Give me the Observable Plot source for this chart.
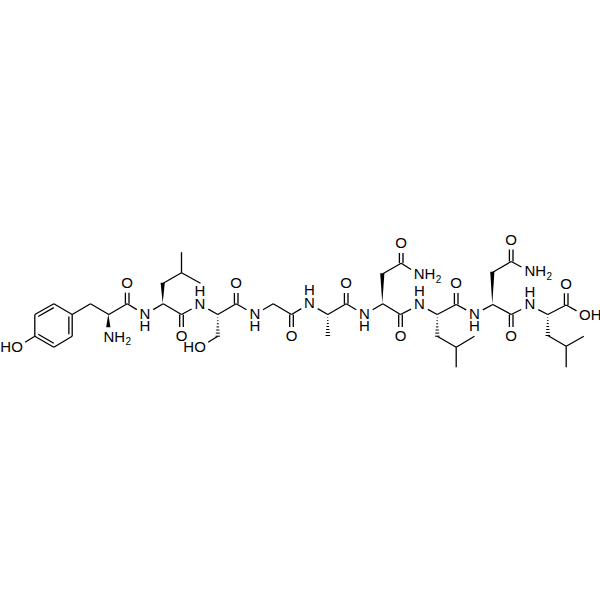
<!DOCTYPE html>
<html><head><meta charset="utf-8">
<script src="https://cdn.jsdelivr.net/npm/d3@7"></script>
<script src="https://cdn.jsdelivr.net/npm/@observablehq/plot@0.6"></script>
<style>html,body{margin:0;padding:0;background:#fff}svg{display:block}</style>
</head><body><div id="chart"></div>
<script>
// atom table: name, x, y
const atomNames = ["r1","r2","r3","r4","r5","r6","oh1",
 "t_b","t_a","t_n","t_c","t_o","n2",
 "l1_a","l1_b","l1_g","l1_d1","l1_d2","l1_c","l1_o","n3",
 "s_a","s_b","s_og","s_c","s_o","n4",
 "g_a","g_c","g_o","n5",
 "a_a","a_b","a_c","a_o","n6",
 "q1_a","q1_b","q1_g","q1_od","q1_nd","q1_c","q1_o","n7",
 "l2_a","l2_b","l2_g","l2_d1","l2_d2","l2_c","l2_o","n8",
 "q2_a","q2_b","q2_g","q2_od","q2_nd","q2_c","q2_o","n9",
 "l3_a","l3_b","l3_g","l3_d1","l3_d2","l3_c","l3_o","l3_oh"];
const atomX = [71.7,53.3,34.3,34.3,53.3,71.7,16.5,
 90,108.3,108.3,126.7,126.7,144.5,
 162.7,162.7,181,181,200,181,181,199.5,
 217.3,217.3,199.5,235.7,235.7,254.3,
 272.7,291,291,309,
 327.3,327.3,345.7,345.7,364,
 382.3,382.3,400.7,400.7,418.6,400,400,419,
 436.7,436.7,455.7,474,455.7,455.7,455.7,474,
 492.3,492.3,510.7,510.7,529.3,510.7,510.7,529.3,
 547.3,547.3,565.7,583.3,565.7,565.7,565.7,584.3];
const atomY = [314,303.3,314,335.7,346.7,335.7,346.7,
 303.3,314,336.7,303.3,282.7,314,
 303.3,282.7,272.3,251.7,282.7,314,336,304,
 314,335.7,346.7,303.3,283,314,
 303.3,314,336,303.3,
 314,335,303.3,283,314,
 303.3,273.3,262.7,243,274,314,336,304.3,
 314,335.7,346.7,335.7,366.7,304,283,314,
 304,271.7,261,239.5,271,314,336,304.8,
 314,335,345.7,335.7,366.7,304.5,283.3,315];

// bonds, given as atom-name pairs
const singleBonds = [["r1","r2"],["r2","r3"],["r3","r4"],["r4","r5"],["r5","r6"],["r6","r1"],["r4","oh1"],
 ["r1","t_b"],["t_b","t_a"],["t_a","t_c"],["t_c","n2"],["n2","l1_a"],
 ["l1_b","l1_g"],["l1_g","l1_d1"],["l1_g","l1_d2"],["l1_a","l1_c"],["l1_c","n3"],["n3","s_a"],
 ["s_b","s_og"],["s_a","s_c"],["s_c","n4"],["n4","g_a"],["g_a","g_c"],["g_c","n5"],["n5","a_a"],
 ["a_a","a_c"],["a_c","n6"],["n6","q1_a"],["q1_b","q1_g"],["q1_g","q1_nd"],
 ["q1_a","q1_c"],["q1_c","n7"],["n7","l2_a"],["l2_b","l2_g"],["l2_g","l2_d1"],["l2_g","l2_d2"],
 ["l2_a","l2_c"],["l2_c","n8"],["n8","q2_a"],["q2_b","q2_g"],["q2_g","q2_nd"],
 ["q2_a","q2_c"],["q2_c","n9"],["n9","l3_a"],["l3_b","l3_g"],["l3_g","l3_d1"],["l3_g","l3_d2"],
 ["l3_a","l3_c"],["l3_c","l3_oh"]];
const carbonylBonds = [["t_c","t_o"],["l1_c","l1_o"],["s_c","s_o"],["g_c","g_o"],["a_c","a_o"],
 ["q1_g","q1_od"],["q1_c","q1_o"],["l2_c","l2_o"],["q2_g","q2_od"],["q2_c","q2_o"],["l3_c","l3_o"]];
const wedgeBonds = [["t_a","t_n"],["l1_a","l1_b"],["q1_a","q1_b"],["q2_a","q2_b"]];
const hashBonds = [["s_a","s_b"],["a_a","a_b"],["l2_a","l2_b"],["l3_a","l3_b"]];
const ringInner = [["r2","r3"],["r4","r5"],["r6","r1"]];

// labels
const oxygenLabels = ["t_o","l1_o","s_o","g_o","a_o","q1_od","q1_o","l2_o","q2_od","q2_o","l3_o"];
const nhDown = ["n2","n4","n6","n8"];
const nhUp = ["n3","n5","n7","n9"];
const amineLabels = ["t_n","q1_nd","q2_nd"];
const hoLabels = ["oh1","s_og"];
const ohLabels = ["l3_oh"];

const pos = Object.fromEntries(atomNames.map((n,i)=>[n,{x:atomX[i],y:atomY[i]}]));
const labelled = new Set([...oxygenLabels,...nhDown,...nhUp,...amineLabels,...hoLabels,...ohLabels]);
const trimR = 9.5;
function trimmed([a,b]){
  const p=pos[a],q=pos[b],d=Math.hypot(q.x-p.x,q.y-p.y);
  const ta=labelled.has(a)?trimR/d:0, tb=labelled.has(b)?trimR/d:0;
  return {x1:p.x+(q.x-p.x)*ta,y1:p.y+(q.y-p.y)*ta,x2:q.x-(q.x-p.x)*tb,y2:q.y-(q.y-p.y)*tb};
}
const center={x:d3.mean(["r1","r2","r3","r4","r5","r6"],n=>pos[n].x),y:d3.mean(["r1","r2","r3","r4","r5","r6"],n=>pos[n].y)};
const inner=ringInner.map(([a,b])=>{
  const f=.82,m=(n)=>({x:center.x+(pos[n].x-center.x)*f,y:center.y+(pos[n].y-center.y)*f});
  const p=m(a),q=m(b);return {x1:p.x,y1:p.y,x2:q.x,y2:q.y};
});
const wedgeRows=wedgeBonds.flatMap(([a,b],i)=>{
  const p=pos[a],q=trimmed([a,b]);
  return [{id:i,y:p.y,x1:p.x,x2:p.x},{id:i,y:q.y2,x1:q.x2-2.1,x2:q.x2+2.1}];
});
const hashRows=hashBonds.flatMap(([a,b])=>{
  const p=pos[a],q=pos[b];
  return d3.range(1,8).map(k=>{const t=k/7,y=p.y+(q.y-p.y)*t,w=t*2.3;return {x1:p.x-w,x2:p.x+w,y1:y,y2:y};});
});
const at=(names)=>names.map(n=>({...pos[n]}));
const font={fontSize:15,fill:"#000",textAnchor:"middle",lineAnchor:"middle"};
const bondStyle={stroke:"#000",strokeWidth:1.3};
const chart=Plot.plot({
  width:600,height:600,margin:0,
  x:{domain:[0,600],range:[0,600],axis:null},
  y:{domain:[0,600],range:[0,600],axis:null},
  style:{background:"#fff",fontFamily:"Liberation Sans"},
  marks:[
    Plot.link(singleBonds.map(trimmed),{x1:"x1",y1:"y1",x2:"x2",y2:"y2",...bondStyle}),
    Plot.link(inner,{x1:"x1",y1:"y1",x2:"x2",y2:"y2",...bondStyle}),
    Plot.link(carbonylBonds.map(trimmed),{x1:"x1",y1:"y1",x2:"x2",y2:"y2",dx:-1.8,...bondStyle}),
    Plot.link(carbonylBonds.map(trimmed),{x1:"x1",y1:"y1",x2:"x2",y2:"y2",dx:1.8,...bondStyle}),
    Plot.areaX(wedgeRows,{y:"y",x1:"x1",x2:"x2",z:"id",fill:"#000"}),
    Plot.link(hashRows,{x1:"x1",y1:"y1",x2:"x2",y2:"y2",stroke:"#000",strokeWidth:1}),
    Plot.text(at(oxygenLabels),{x:"x",y:"y",text:()=>"O",...font}),
    Plot.text(at(nhDown),{x:"x",y:"y",dy:6.4,text:()=>"N\nH",lineHeight:.85,...font}),
    Plot.text(at(nhUp),{x:"x",y:"y",dy:-6.2,text:()=>"H\nN",lineHeight:.83,...font}),
    Plot.text(at(amineLabels),{x:"x",y:"y",dx:-5.4,text:()=>"NH",...font,textAnchor:"start"}),
    Plot.text(at(amineLabels),{x:"x",y:"y",dx:16.6,dy:5,text:()=>"2",...font,fontSize:10,textAnchor:"start"}),
    Plot.text(at(hoLabels),{x:"x",y:"y",dx:5.8,text:()=>"HO",...font,textAnchor:"end"}),
    Plot.text(at(ohLabels),{x:"x",y:"y",dx:-5.8,text:()=>"OH",...font,textAnchor:"start"})
  ]
});
document.getElementById("chart").append(chart);
</script></body></html>
